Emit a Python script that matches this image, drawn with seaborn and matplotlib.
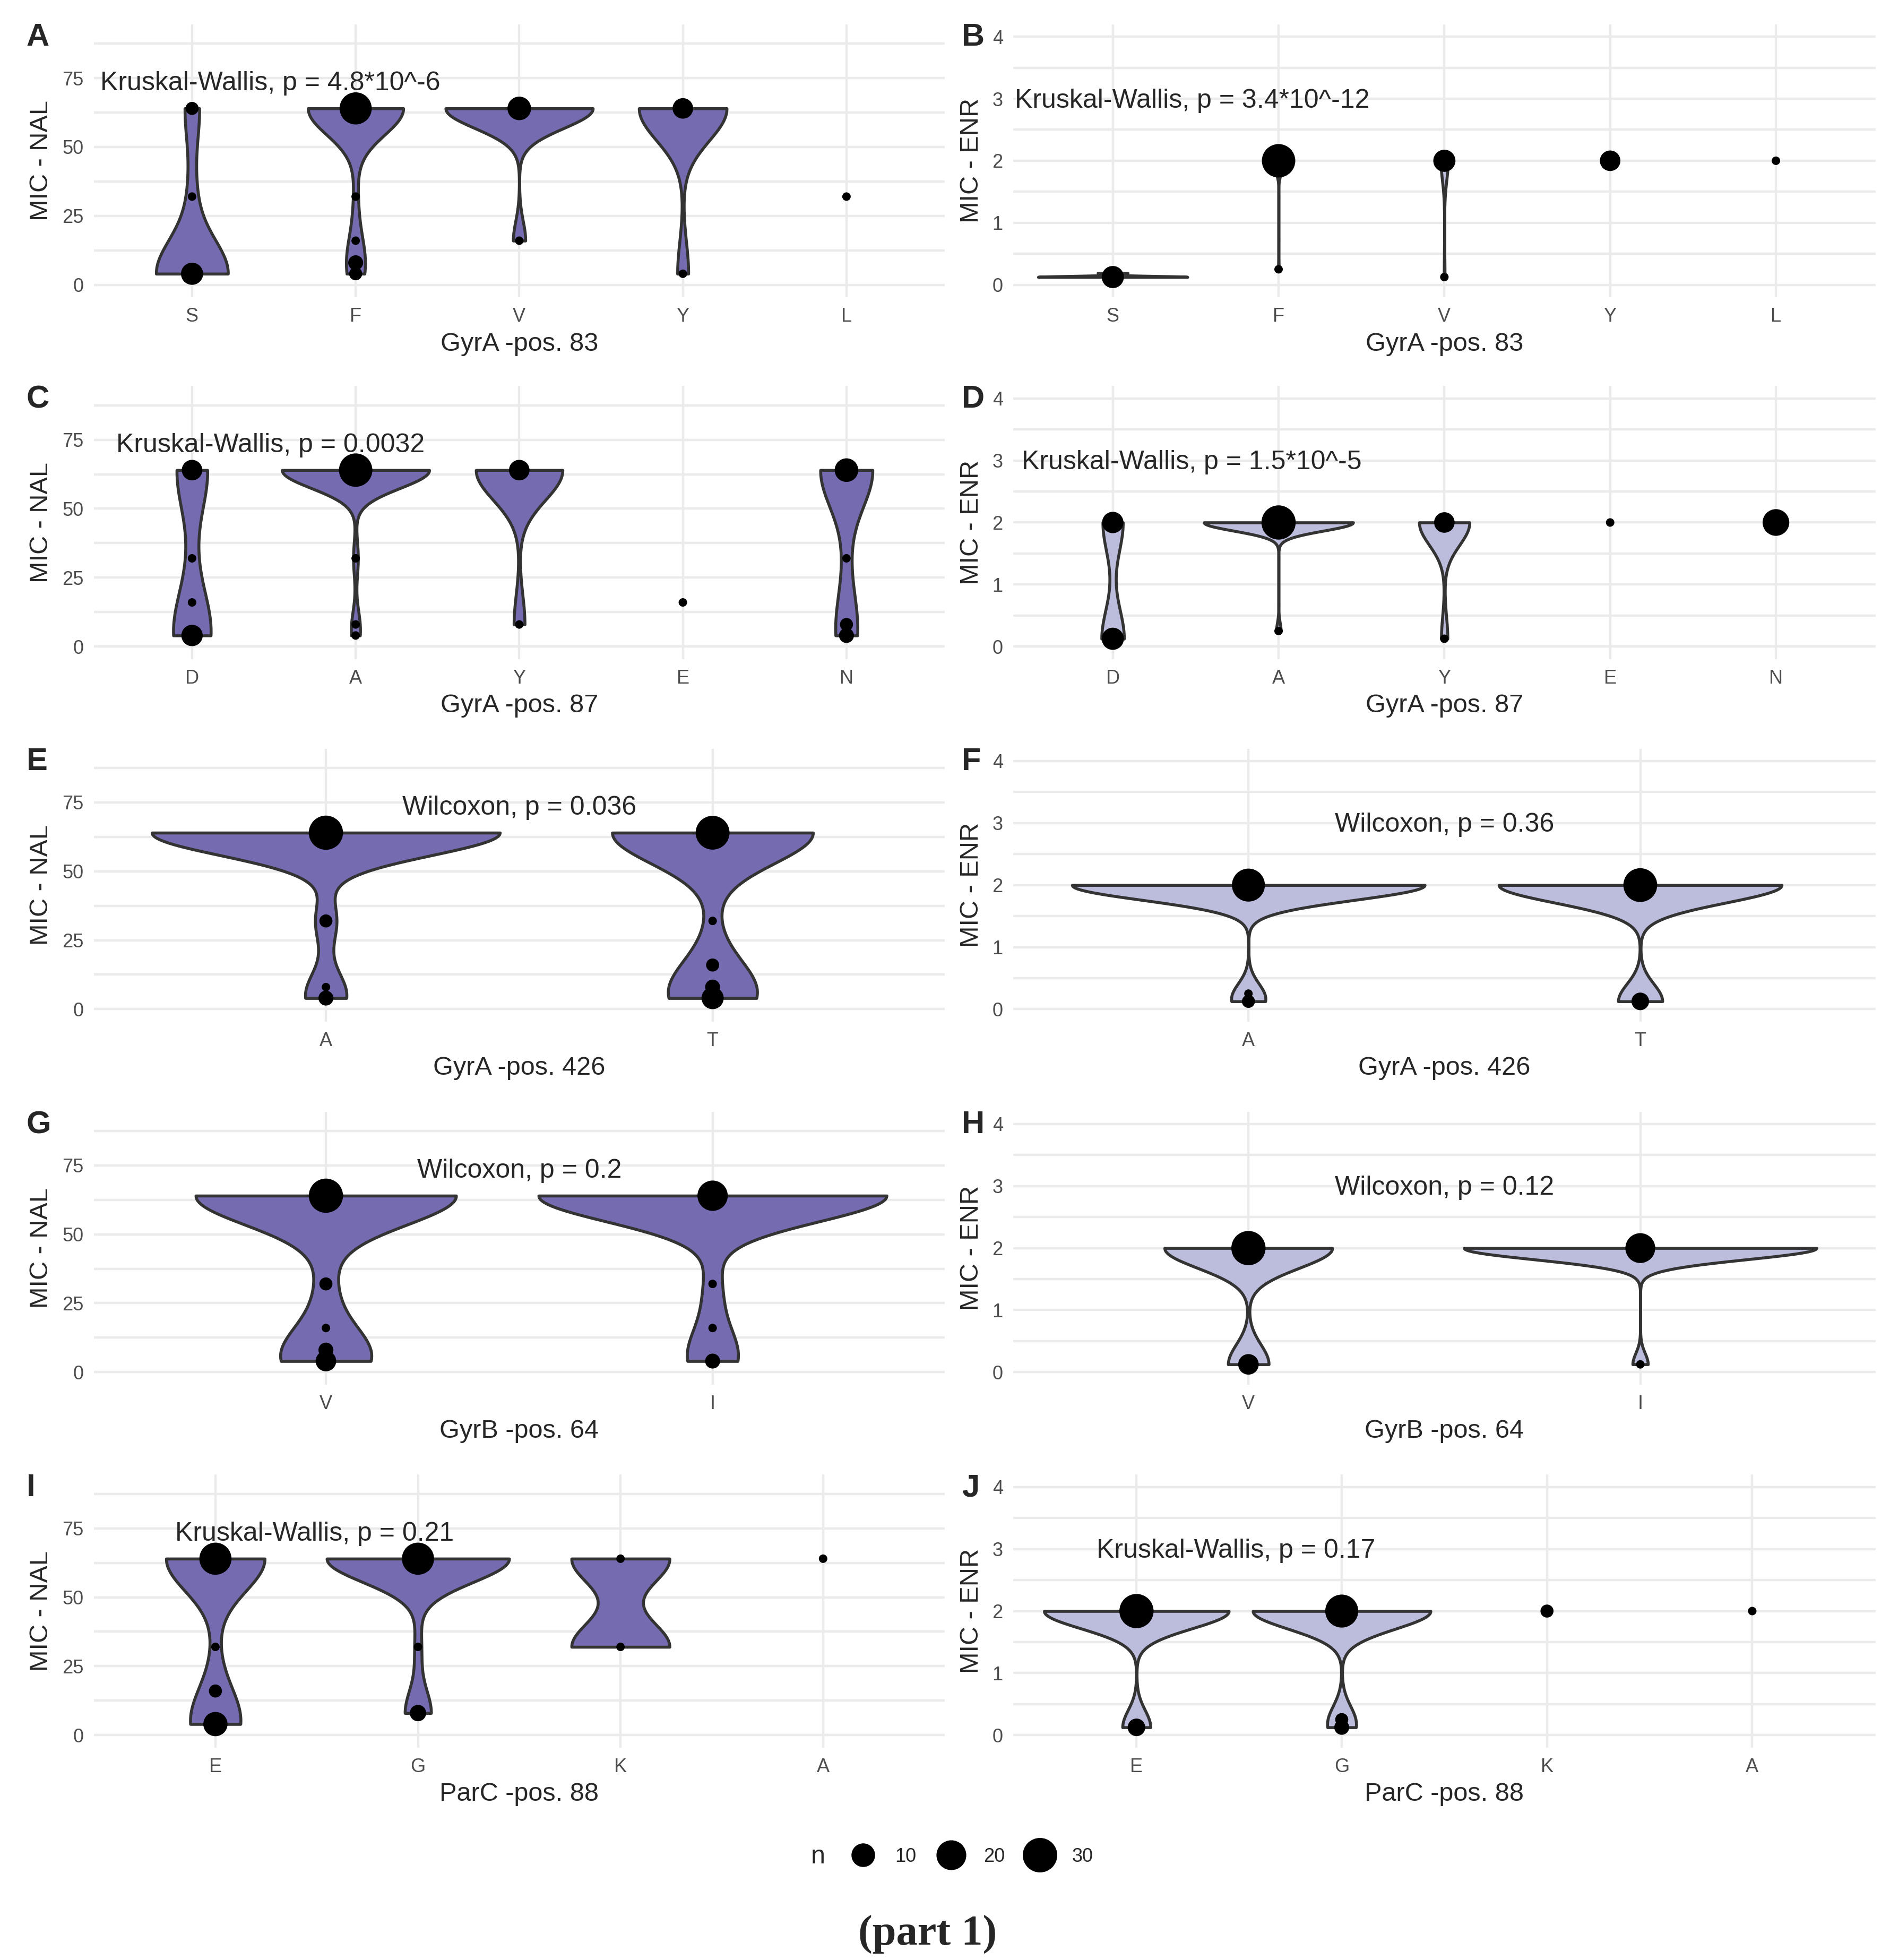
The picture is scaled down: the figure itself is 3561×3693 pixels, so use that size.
import numpy as np
import pandas as pd
import matplotlib
matplotlib.use("Agg")
import matplotlib.pyplot as plt
from matplotlib.lines import Line2D
from matplotlib.ticker import MultipleLocator
import seaborn as sns

sns.set_style("white")
plt.rcParams["font.family"] = ["Liberation Sans", "DejaVu Sans"]

NAL_COLOR = "#756BB1"
ENR_COLOR = "#BCBDDC"
LINE_COLOR = "#333333"
GRID_COLOR = "#EBEBEB"

# isolate counts per variant: {MIC value: number of isolates}
gyra83_levels = ["S", "F", "V", "Y", "L"]
nal_gyra83 = {"S": {4: 10, 32: 1, 64: 2},
              "F": {64: 28, 32: 1, 16: 1, 8: 3, 4: 2},
              "V": {64: 12, 16: 1},
              "Y": {64: 8, 4: 1},
              "L": {32: 1}}
enr_gyra83 = {"S": {0.125: 10, 0.19: 2},
              "F": {2: 31, 0.25: 1},
              "V": {2: 10, 0.125: 1},
              "Y": {2: 8},
              "L": {2: 1}}

gyra87_levels = ["D", "A", "Y", "E", "N"]
nal_gyra87 = {"D": {64: 8, 32: 1, 16: 1, 4: 9},
              "A": {64: 31, 32: 1, 8: 1, 4: 1},
              "Y": {64: 8, 8: 1},
              "E": {16: 1},
              "N": {64: 12, 32: 1, 8: 2, 4: 3}}
enr_gyra87 = {"D": {2: 9, 0.125: 10},
              "A": {2: 33, 0.25: 1},
              "Y": {2: 8, 0.125: 1},
              "E": {2: 1},
              "N": {2: 17}}

gyra426_levels = ["A", "T"]
nal_gyra426 = {"A": {64: 33, 32: 2, 8: 1, 4: 3},
               "T": {64: 32, 32: 1, 16: 2, 8: 3, 4: 10}}
enr_gyra426 = {"A": {2: 30, 0.25: 1, 0.125: 2},
               "T": {2: 32, 0.125: 5}}

gyrb64_levels = ["V", "I"]
nal_gyrb64 = {"V": {64: 33, 32: 2, 16: 1, 8: 3, 4: 8},
              "I": {64: 24, 32: 1, 16: 1, 4: 3}}
enr_gyrb64 = {"V": {2: 33, 0.125: 8},
              "I": {2: 23, 0.125: 1}}

parc88_levels = ["E", "G", "K", "A"]
nal_parc88 = {"E": {64: 28, 32: 1, 16: 2, 4: 13},
              "G": {64: 28, 32: 1, 8: 4},
              "K": {64: 1, 32: 1},
              "A": {64: 1}}
enr_parc88 = {"E": {2: 33, 0.125: 5},
              "G": {2: 30, 0.25: 2, 0.125: 3},
              "K": {2: 2},
              "A": {2: 1}}

# (tag, levels, counts, drug, x title, test label, label x, label ha)
panels = [
    ("A", gyra83_levels, nal_gyra83, "NAL", "GyrA -pos. 83", "Kruskal-Wallis, p = 4.8*10^-6", -0.56, "left"),
    ("B", gyra83_levels, enr_gyra83, "ENR", "GyrA -pos. 83", "Kruskal-Wallis, p = 3.4*10^-12", -0.59, "left"),
    ("C", gyra87_levels, nal_gyra87, "NAL", "GyrA -pos. 87", "Kruskal-Wallis, p = 0.0032", -0.465, "left"),
    ("D", gyra87_levels, enr_gyra87, "ENR", "GyrA -pos. 87", "Kruskal-Wallis, p = 1.5*10^-5", -0.55, "left"),
    ("E", gyra426_levels, nal_gyra426, "NAL", "GyrA -pos. 426", "Wilcoxon, p = 0.036", 0.5, "center"),
    ("F", gyra426_levels, enr_gyra426, "ENR", "GyrA -pos. 426", "Wilcoxon, p = 0.36", 0.5, "center"),
    ("G", gyrb64_levels, nal_gyrb64, "NAL", "GyrB -pos. 64", "Wilcoxon, p = 0.2", 0.5, "center"),
    ("H", gyrb64_levels, enr_gyrb64, "ENR", "GyrB -pos. 64", "Wilcoxon, p = 0.12", 0.5, "center"),
    ("I", parc88_levels, nal_parc88, "NAL", "ParC -pos. 88", "Kruskal-Wallis, p = 0.21", -0.20, "left"),
    ("J", parc88_levels, enr_parc88, "ENR", "ParC -pos. 88", "Kruskal-Wallis, p = 0.17", -0.195, "left"),
]

legend_n = [10, 20, 30]


def point_diam(n):
    # diameter in points (ggplot-like area scale), figure at 200 dpi
    px = 16 + 50 * np.sqrt((n - 1) / 34.0)
    return px * 72 / 200.0


def bw_nrd0(kde):
    # R's bw.nrd0, expressed as a factor of the sample sd for scipy
    x = kde.dataset.ravel()
    sd = x.std(ddof=1)
    q75, q25 = np.percentile(x, [75, 25])
    lo = min(sd, (q75 - q25) / 1.34)
    if lo == 0:
        lo = sd
    return 0.9 * lo * len(x) ** -0.2 / sd


def to_frames(levels, counts):
    rows = [(g, mic, n) for g, vals in counts.items() for mic, n in vals.items()]
    cnt = pd.DataFrame(rows, columns=["grp", "mic", "n"])
    cnt["pos"] = cnt["grp"].map({g: i for i, g in enumerate(levels)})
    raw = cnt.loc[cnt.index.repeat(cnt["n"])].reset_index(drop=True)
    return cnt, raw


def draw_panel(ax, levels, counts, drug, xtitle, label, lx, ha):
    cnt, raw = to_frames(levels, counts)
    # groups with a single distinct value get no violin (as in ggplot)
    keep = raw.groupby("grp")["mic"].transform("nunique") > 1
    color = NAL_COLOR if drug == "NAL" else ENR_COLOR
    sns.violinplot(data=raw[keep], x="grp", y="mic", order=levels, ax=ax,
                   color=color, saturation=1, linecolor=LINE_COLOR,
                   linewidth=2.0, inner=None, cut=0, width=0.9,
                   density_norm="area", bw_method=bw_nrd0)
    sizes = {n: point_diam(n) ** 2 for n in cnt["n"].unique()}
    sns.scatterplot(data=cnt, x="pos", y="mic", size="n", sizes=sizes,
                    color="black", linewidth=0, legend=False, ax=ax, zorder=4)

    ax.set_xlim(-0.6, len(levels) - 0.4)
    ax.set_xticks(range(len(levels)))
    ax.set_xticklabels(levels)
    if drug == "NAL":
        ax.set_ylim(-4.5, 94.5)
        ax.set_yticks([0, 25, 50, 75])
        ax.yaxis.set_minor_locator(MultipleLocator(12.5))
        ty = 73.0
    else:
        ax.set_ylim(-0.2, 4.2)
        ax.set_yticks([0, 1, 2, 3, 4])
        ax.yaxis.set_minor_locator(MultipleLocator(0.5))
        ty = 2.97
    ax.set_axisbelow(True)
    ax.grid(True, which="both", axis="y", color=GRID_COLOR, lw=1.6)
    ax.grid(True, which="major", axis="x", color=GRID_COLOR, lw=1.6)
    sns.despine(ax=ax, left=True, bottom=True)
    ax.tick_params(axis="both", which="both", length=0, labelsize=13,
                   labelcolor="#4D4D4D", pad=7)
    ax.set_xlabel(xtitle, fontsize=17.5, labelpad=4)
    ax.set_ylabel("MIC - " + drug, fontsize=17.5, labelpad=6)
    ax.text(lx, ty, label, ha=ha, va="center", fontsize=18, zorder=5)


fig = plt.figure(figsize=(17.81, 18.465))

W, H = 1500.0, 1555.1
col_x = [(74.5, 675.0), (804.0, 684.0)]
row_top = [19.3, 306.3, 594.0, 882.0, 1170.0]
ax_h = 216.5
tag_x = [21.0, 763.0]

for i, (tag, levels, counts, drug, xtitle, label, lx, ha) in enumerate(panels):
    r, c = divmod(i, 2)
    x0, w = col_x[c]
    ax = fig.add_axes([x0 / W, 1 - (row_top[r] + ax_h) / H, w / W, ax_h / H])
    draw_panel(ax, levels, counts, drug, xtitle, label, lx, ha)
    fig.text(tag_x[c] / W, 1 - (row_top[r] - 1) / H, tag, ha="left", va="top",
             fontsize=21.5, fontweight="bold")

# size legend
handles = [Line2D([0], [0], marker="o", ls="", color="black",
                  markersize=point_diam(n)) for n in legend_n]
fig.legend(handles, [str(n) for n in legend_n], loc="center",
           bbox_to_anchor=(0.5127, 1 - 1473 / H), ncol=3, frameon=False,
           fontsize=13, handlelength=1.8, handletextpad=0.78,
           columnspacing=0.92)
fig.text(649 / W, 1 - 1473 / H, "n", ha="center", va="center", fontsize=17.5)

fig.text(736 / W, 1 - 1535 / H, "(part 1)", ha="center", va="center",
         fontsize=29, fontweight="bold", family=["Liberation Serif", "DejaVu Serif"])

fig.savefig("out.png", dpi=200)
